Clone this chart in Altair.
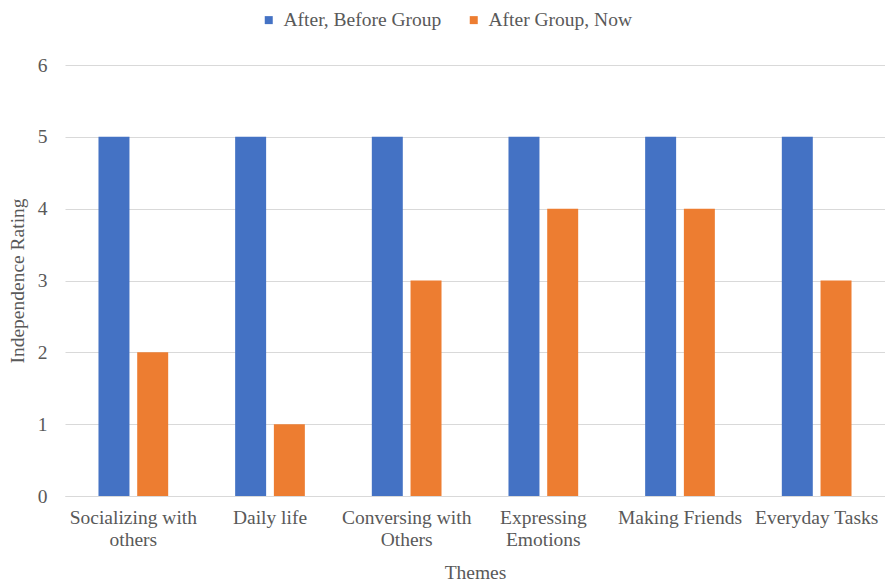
import altair as alt
import pandas as pd

themes = ["Socializing with others", "Daily life", "Conversing with Others",
          "Expressing Emotions", "Making Friends", "Everyday Tasks"]
before = [5, 5, 5, 5, 5, 5]
now = [2, 1, 3, 4, 4, 3]
series = ["After, Before Group", "After Group, Now"]
colors = ["#4472C4", "#ED7D31"]
y_ticks = [0, 1, 2, 3, 4, 5, 6]

rows = []
for t, b, n in zip(themes, before, now):
    rows.append({"Theme": t, "Series": series[0], "Rating": b})
    rows.append({"Theme": t, "Series": series[1], "Rating": n})
df = pd.DataFrame(rows)

FONT = "Liberation Serif"
GREY = "#595959"
FS = 19.5

label_expr = (
    "datum.label == 'Socializing with others' ? ['Socializing with', 'others'] : "
    "datum.label == 'Conversing with Others' ? ['Conversing with', 'Others'] : "
    "datum.label == 'Expressing Emotions' ? ['Expressing', 'Emotions'] : datum.label"
)

chart = alt.Chart(df).mark_bar().encode(
    x=alt.X("Theme:N", sort=themes,
            scale=alt.Scale(paddingInner=0.49, paddingOuter=0.245),
            axis=alt.Axis(title="Themes", labelAngle=0, labelExpr=label_expr,
                          labelPadding=12, labelLineHeight=22, ticks=False,
                          domainColor="#d9d9d9", titlePadding=15,
                          labelBaseline="top")),
    xOffset=alt.XOffset("Series:N", sort=series,
                        scale=alt.Scale(paddingInner=0.2, paddingOuter=0)),
    y=alt.Y("Rating:Q", scale=alt.Scale(domain=[0, 6]),
            axis=alt.Axis(title="Independence Rating", values=y_ticks,
                          labelOverlap=False, ticks=False, domain=False, labelPadding=18,
                          gridColor="#d9d9d9", titlePadding=10)),
    color=alt.Color("Series:N", sort=series,
                    scale=alt.Scale(domain=series, range=colors),
                    legend=alt.Legend(title=None, orient="none", direction="horizontal",
                                      legendX=194, legendY=-55, padding=0,
                                      symbolType="square",
                                      symbolSize=64, symbolStrokeWidth=0,
                                      columnPadding=22, labelOffset=5)),
).properties(
    width=820, height=431,
    background="white",
    autosize=alt.AutoSizeParams(type="none"),
    padding={"left": 65, "top": 65, "right": 0, "bottom": 89},
).configure_view(stroke=None).configure_axis(
    labelFont=FONT, titleFont=FONT, labelFontSize=FS, titleFontSize=FS,
    labelColor=GREY, titleColor=GREY, titleFontWeight="normal",
).configure_legend(
    labelFont=FONT, labelFontSize=FS, labelColor=GREY,
)

chart.save("out.html", embed_options={"renderer": "svg", "actions": False})
